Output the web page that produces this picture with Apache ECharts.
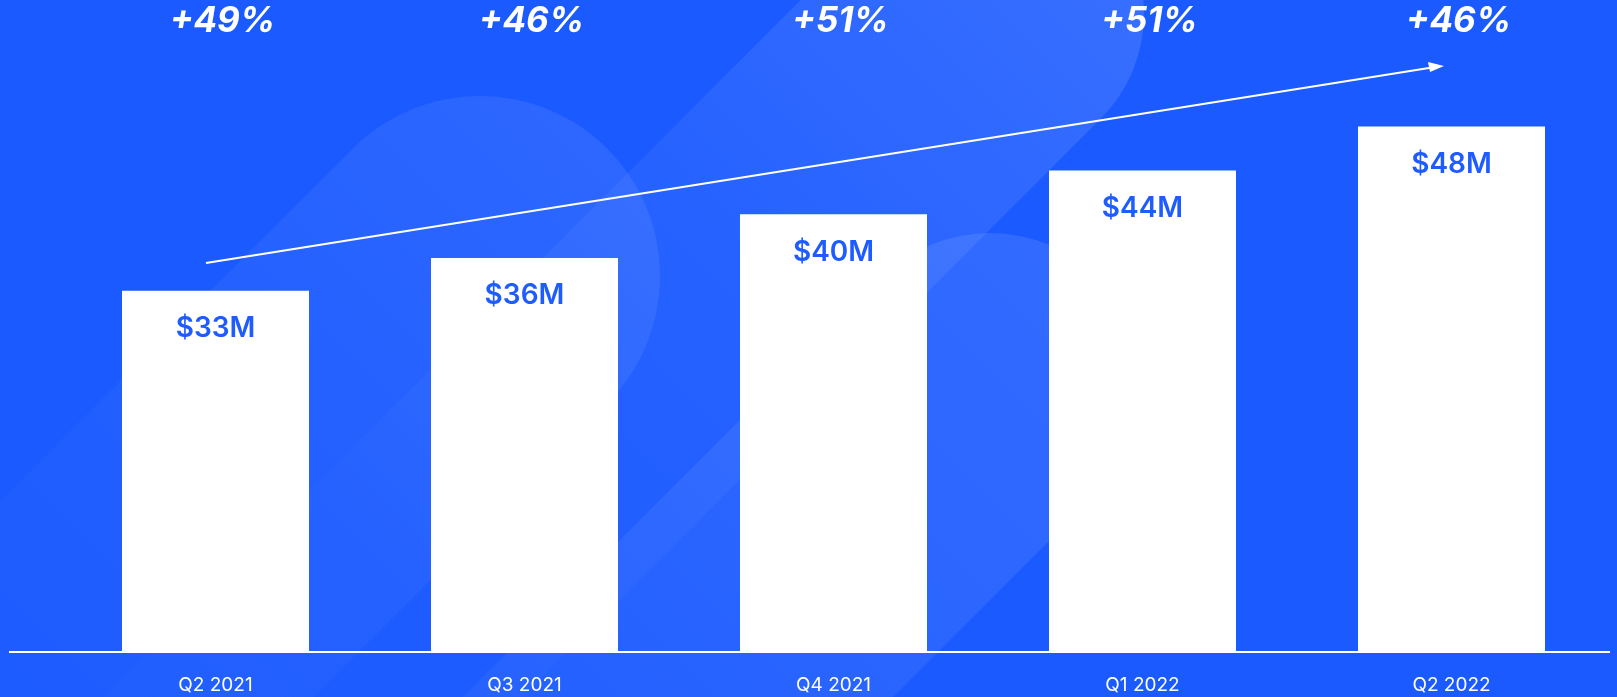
<!DOCTYPE html>
<html>
<head>
<meta charset="utf-8">
<script src="https://cdn.jsdelivr.net/npm/echarts@6/dist/echarts.min.js"></script>
<style>
  html, body { margin: 0; padding: 0; background: #1b5aff; }
  #chart { width: 1617px; height: 697px; }
</style>
</head>
<body>
<div id="chart"></div>
<script>
// Quarterly revenue (USD millions) and year-over-year growth
const quarters = ['Q2 2021', 'Q3 2021', 'Q4 2021', 'Q1 2022', 'Q2 2022'];
const revenue = [33, 36, 40, 44, 48];
const growth = ['+49%', '+46%', '+51%', '+51%', '+46%'];

const BLUE = '#1b5aff';
const chart = echarts.init(document.getElementById('chart'));

// Decorative capsule: rounded end centred at (cx, cy), body running down-left at 45°
function capsule(cx, cy, r, fill) {
  return {
    type: 'rect', z: 0, silent: true,
    x: cx, y: cy, rotation: -Math.PI / 4,
    shape: { x: -r, y: -r, width: 2 * r, height: 1400, r: r },
    style: { fill: fill }
  };
}

// Fill fading along the capsule body
function fade(top, mid, bottom) {
  return new echarts.graphic.LinearGradient(0, 0, 0, 1, [
    { offset: 0, color: 'rgba(255,255,255,' + top + ')' },
    { offset: 0.35, color: 'rgba(255,255,255,' + mid + ')' },
    { offset: 0.7, color: 'rgba(255,255,255,' + bottom + ')' }
  ]);
}

chart.setOption({
  backgroundColor: BLUE,
  animation: false,
  grid: { left: 61, right: 11, top: 50, bottom: 45 },
  xAxis: [
    {
      type: 'category',
      data: quarters,
      position: 'bottom',
      axisLine: { show: false },
      axisTick: { show: false },
      axisLabel: {
        color: '#ffffff',
        fontFamily: 'Inter',
        fontSize: 19,
        margin: 24
      }
    },
    {
      type: 'category',
      data: growth,
      position: 'top',
      axisLine: { show: false },
      axisTick: { show: false },
      axisLabel: {
        color: '#ffffff',
        fontFamily: 'Inter',
        fontStyle: 'italic',
        fontWeight: 'bold',
        fontSize: 35,
        margin: 11,
        padding: [0, 0, 0, 14]
      }
    }
  ],
  yAxis: {
    type: 'value',
    min: 0,
    max: 55,
    show: false,
    splitLine: { show: false }
  },
  graphic: [
    // soft background shapes
    capsule(480, 276, 180, fade(0.08, 0.03, 0)),
    capsule(996, 14, 148, fade(0.13, 0.05, 0.01)),
    capsule(990, 385, 152, fade(0.10, 0.06, 0.02)),
    // full-width baseline
    {
      type: 'line', z: 10, silent: true,
      shape: { x1: 9, y1: 652, x2: 1610, y2: 652 },
      style: { stroke: '#ffffff', lineWidth: 2 }
    },
    // growth trend arrow
    {
      type: 'line', z: 10, silent: true,
      shape: { x1: 206, y1: 263, x2: 1432, y2: 67.5 },
      style: { stroke: '#ffffff', lineWidth: 2 }
    },
    {
      type: 'polygon', z: 10, silent: true,
      shape: { points: [[1444, 66], [1428, 62], [1430, 72]] },
      style: { fill: '#ffffff' }
    }
  ],
  series: [
    {
      type: 'bar',
      data: revenue,
      barWidth: 187,
      z: 5,
      itemStyle: { color: '#ffffff' },
      label: {
        show: true,
        position: 'insideTop',
        distance: 24,
        color: '#1f5cff',
        fontFamily: 'Inter',
        fontWeight: 600,
        fontSize: 28,
        formatter: p => '$' + p.value + 'M'
      }
    }
  ]
});
</script>
</body>
</html>
